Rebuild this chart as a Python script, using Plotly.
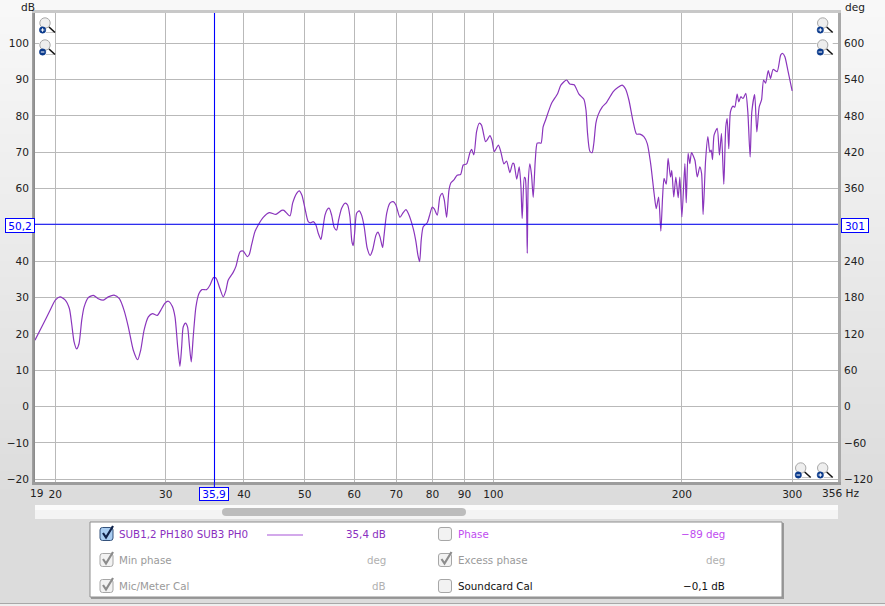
import plotly.graph_objects as go

freq_hz = [18.56,19.14,19.62,20.0,20.35,20.73,21.06,21.24,21.43,21.63,21.82,22.04,22.23,22.58,23.0,23.42,23.86,24.30,24.82,25.31,25.75,26.16,26.64,27.07,27.37,27.71,28.15,28.58,29.09,29.46,29.93,30.30,30.74,31.05,31.36,31.62,31.82,32.0,32.28,32.52,32.72,32.96,33.2,33.53,33.91,34.28,34.87,35.30,35.76,36.09,36.62,37.07,37.44,37.75,38.41,38.84,39.42,39.90,40.49,40.78,41.14,41.64,42.16,42.94,43.90,45.0,45.94,46.33,47.37,47.84,48.55,49.01,49.50,50.05,50.66,51.11,51.60,52.11,52.56,53.08,53.42,53.88,54.34,54.73,55.21,55.74,56.23,56.65,57.28,58.04,58.55,59.05,59.48,59.77,60.08,60.52,61.10,61.64,62.23,62.92,63.62,64.18,64.98,65.45,65.93,66.59,66.91,67.59,68.40,69.23,69.92,70.96,71.82,72.53,73.16,74.52,75.26,75.81,76.29,76.74,77.31,78.45,79.23,79.91,80.51,81.40,82.20,82.90,83.52,84.25,84.98,85.6,86.52,87.57,88.69,89.55,90.66,91.77,92.34,93.12,94.05,94.97,95.77,97.2,97.8,98.77,99.5,100.4,101.9,102.8,104.0,105.0,106.3,107.4,107.9,109.0,110.0,110.7,111.2,112.1,112.5,113.1,113.3,113.7,114.4,115.1,115.8,116.7,117.5,118.4,119.2,120.1,121.2,122.7,123.9,126.7,128.2,130.9,132.5,134.6,137.0,139.5,140.6,141.4,142.6,143.8,144.7,145.8,147.0,149.3,151.6,155.4,158.2,160.6,162.6,164.6,167.2,169.3,171.4,173.9,176.1,178.3,180.6,182.0,183.6,185.1,186.3,187.3,188.8,190.1,191.8,192.7,194.1,195.6,197.3,198.5,200.0,202.2,203.2,204.6,205.9,207.2,209.8,211.6,213.6,215.0,216.2,218.2,220.0,221.6,222.7,223.8,225.1,227.7,229.6,231.3,233.3,235.0,236.2,237.6,239.1,241.4,242.9,245.0,246.5,248.3,250.4,252.9,254.8,257.0,258.6,261.3,263.4,265.7,268.0,270.0,272.0,274.7,277.0,279.6,283.8,287.6,289.7,292.0,295.5,299.9]
spl_db = [18.3,22.8,26.5,29.3,30.2,29.4,27,22.8,17.8,15.9,17.3,23.8,27.4,30,30.6,29.7,29.3,30.2,30.7,29.7,26.5,21.9,15.5,12.9,15.5,21,24.7,25.6,25.1,26.5,28.5,29,27.6,24.7,16.4,11.1,16.4,21.9,23,21.9,17.3,12.3,19.2,27.4,31.1,32.2,32.2,33.4,35.5,35.4,32.5,30.2,32,34.8,36.8,38.6,42.6,42.8,41.3,41.8,44.5,48.1,50,52.1,53.4,52.9,54,54,52.5,56,58.7,59.4,58.2,54.6,50.9,50.6,50.9,50,47.7,46,48.6,52.7,54.3,54.6,52.7,49.3,48.6,51.4,54.6,56,55.5,52.3,45.4,44.3,47.7,53.2,53.9,52.7,49.5,43.6,41.6,43.1,47.2,48,46.8,43.8,46.8,53.2,56,56.4,55.5,52.1,53.4,54.2,53.2,49,45.4,41.7,39.9,45.9,49.5,50.6,53,54.9,54.4,52.7,57.8,58.7,56.9,52.1,59.6,61.6,62.4,63.7,63.9,66.5,66.8,69.9,70.8,69.3,75.7,78,77.5,72.9,73.4,74.6,73.4,70.2,72,70.2,66.8,67.6,64.4,67,66.8,62.6,66,60.5,51.8,63.1,62.8,51.4,42.2,61.5,66.8,63.7,57.6,67.9,72.5,72.6,72.5,77,78.9,81.6,83.5,86.2,88.5,89.9,88.8,88.6,86,84.6,81.6,75.2,70.3,69.9,72.5,78,80.3,82.5,83.7,86.7,87.9,88.5,87.4,84.4,78.4,75,75,74.3,72.4,66.9,58.6,54.5,57.7,48.3,57.7,62.8,61.2,68.3,63.2,65,57.7,63.2,57.5,63.2,52.2,66.9,56.1,69.7,66.9,69.9,67.8,63.2,66,64.2,52.9,67.8,74.3,70.1,70.6,68,74.7,76.6,69.2,75.2,61.2,77,79.3,71,81.2,82.7,82.4,86,83.9,85.3,84.8,86.2,81.2,68.7,81.2,85.9,75.6,82.5,84.4,89.9,89,92.5,90.3,92.8,92.2,96.8,97.2,96.3,92.2,86.9]

x_ticks = [20,30,40,50,60,70,80,90,100,200,300]
x_labels = ["20","30","40","50","60","70","80","90","100","200","300"]
db_ticks = [-20,-10,0,10,20,30,40,50,60,70,80,90,100]
db_labels = ["−20","−10","0","10","20","30","40","","60","70","80","90","100"]
deg_ticks = [-120,-60,0,60,120,180,240,300,360,420,480,540,600]
deg_labels = ["−120","−60","0","60","120","180","240","","360","420","480","540","600"]
cursor_hz = 35.9
cursor_db = 50.2

W, H = 885, 606
L, R, T, B = 35, 838, 13, 482
DB_RANGE = [-20.75, 108.34]
X_RANGE = [1.26863, 2.55015]
FONT = "DejaVu Sans"
INK = "#222222"
TICK_SIZE = 10.6

def xp(px):
    return (px - L) / (R - L)

def yp(py):
    return 1 - (py - T) / (B - T)

shapes = []
annotations = []

def rect(x0, y0, x1, y1, fill, line=None, lw=1, layer="above"):
    shapes.append(dict(type="rect", xref="paper", yref="paper", x0=xp(x0), x1=xp(x1),
                       y0=yp(y0), y1=yp(y1), fillcolor=fill, layer=layer,
                       line=dict(color=line or fill, width=lw if line else 0)))

def seg(x0, y0, x1, y1, color, lw=1):
    shapes.append(dict(type="line", xref="paper", yref="paper", x0=xp(x0), x1=xp(x1),
                       y0=yp(y0), y1=yp(y1), line=dict(color=color, width=lw)))

def circ(cx, cy, r, fill, line, lw=1):
    shapes.append(dict(type="circle", xref="paper", yref="paper", x0=xp(cx-r), x1=xp(cx+r),
                       y0=yp(cy-r), y1=yp(cy+r), fillcolor=fill, line=dict(color=line, width=lw)))

def poly(points, color, lw):
    d = "M " + " L ".join(f"{xp(a):.5f},{yp(b):.5f}" for a, b in points)
    shapes.append(dict(type="path", xref="paper", yref="paper", path=d, line=dict(color=color, width=lw)))

def rounded(x0, y0, x1, y1, r, fill, line=None, lw=1):
    X0, X1, Y0, Y1 = xp(x0), xp(x1), yp(y0), yp(y1)
    rx, ry = r / (R - L), r / (B - T)
    d = (f"M {X0+rx:.5f},{Y0:.5f} L {X1-rx:.5f},{Y0:.5f} Q {X1:.5f},{Y0:.5f} {X1:.5f},{Y0-ry:.5f} "
         f"L {X1:.5f},{Y1+ry:.5f} Q {X1:.5f},{Y1:.5f} {X1-rx:.5f},{Y1:.5f} "
         f"L {X0+rx:.5f},{Y1:.5f} Q {X0:.5f},{Y1:.5f} {X0:.5f},{Y1+ry:.5f} "
         f"L {X0:.5f},{Y0-ry:.5f} Q {X0:.5f},{Y0:.5f} {X0+rx:.5f},{Y0:.5f} Z")
    shapes.append(dict(type="path", xref="paper", yref="paper", path=d, fillcolor=fill,
                       line=dict(color=line or fill, width=lw if line else 0)))

def text(px, py, s, color=INK, size=10.3, anchor="left"):
    nudge = {"left": -2, "right": 2, "center": 0}[anchor]
    annotations.append(dict(xref="paper", yref="paper", x=xp(px + nudge), y=yp(py), text=s, showarrow=False,
                            xanchor=anchor, yanchor="middle", align=anchor,
                            font=dict(family=FONT, size=size, color=color)))

def boxed(cx, cy, w, h, s):
    annotations.append(dict(xref="paper", yref="paper", x=xp(cx), y=yp(cy), text=s, showarrow=False,
                            xanchor="center", yanchor="middle", width=w, height=h, bgcolor="white",
                            bordercolor="#0000ff", borderwidth=1, borderpad=0,
                            font=dict(family=FONT, size=TICK_SIZE, color="#0000ff")))

# window background: vertical gradient drawn as thin bands
bands = 60
for i in range(bands):
    shade = round(0xf8 + (0xdc - 0xf8) * i / (bands - 1))
    c = f"rgb({shade},{shade},{shade})"
    rect(0, 505 * i / bands, W, 505 * (i + 1) / bands + 1, c, layer="below")
rect(0, 505, W, 603, "#dcdcdc", layer="below")
rect(0, 604, W, 606, "#efefef", layer="below")
rect(L, T, R, B, "white", layer="below")
seg(0, 603.5, W, 603.5, "#a8a8a8", 1)

# plot frame shadow
rect(L - 3, T, L, B + 3, "#a0a0a0")
rect(L - 1.5, T, L, B + 1, "#8c8c8c")
rect(R, T - 1, R + 3, B + 3, "#a8a8a8")
rect(L - 3, T - 3, R + 3, T, "#c8c8c8")
rect(L - 3, B, R + 3, B + 3, "#9c9c9c")

# zoom icons
def lens(cx, cy, plus):
    rect(cx - 6, cy - 7, cx + 10, cy + 11, "white")
    seg(cx + 1, cy + 9.5, cx + 9, cy + 9.5, "#c8c8c8", 1)
    circ(cx, cy, 5.2, "#eeeeee", "#a8a8a8", 1)
    seg(cx + 4, cy + 4, cx + 10, cy + 9.5, "#111111", 1.6)
    circ(cx - 2.4, cy + 7, 3.2, "#0b3a8c", "#0b3a8c", 0.5)
    seg(cx - 4.2, cy + 7, cx - 0.6, cy + 7, "white", 1)
    if plus:
        seg(cx - 2.4, cy + 5.2, cx - 2.4, cy + 8.8, "white", 1)

lens(45, 23, True)
lens(45, 45, False)
lens(822.7, 23, True)
lens(822.7, 45, False)
lens(800.7, 468, False)
lens(822.7, 468, True)

# cursor tail and labels
seg(214.4, B, 214.4, 488, "#0000ff", 1)
boxed(213.5, 494, 28, 12, "35,9")
boxed(19.5, 225, 28, 13, "50,2")
boxed(855, 225, 26, 13, "301")

text(36, 493, "19", size=TICK_SIZE, anchor="center")
text(822, 493, "356 Hz", size=TICK_SIZE)
text(21, 7, "dB", size=TICK_SIZE)
text(845, 7, "deg", size=TICK_SIZE)

# scrollbar
rect(L, 505, R, 519, "#f4f4f4")
rect(L, 505, R, 510, "#fbfbfb")
rounded(222, 508, 466, 516, 4, "#bcbcbc")

# legend panel
rect(91, 523, 784, 599, "#9a9a9a")
rect(90, 522, 782, 597, "white", "#8e8e8e", 1)
PURPLE, PHASE, GREY = "#8a2fc0", "#c04cf0", "#9a9a9a"

def checkbox(x, y, checked=False, active=False):
    fill = "#a9cdf2" if active else "#f2f2f2"
    line = "#32507a" if active else "#a6a6a6"
    rounded(x, y - 6.5, x + 13, y + 6.5, 2.5, fill, line, 1)
    if checked:
        col = "#10224a" if active else "#8c8c8c"
        poly([(x + 3, y - 1), (x + 6, y + 3.5), (x + 13, y - 8)], col, 2.2)

rows = [534, 560, 586]
checkbox(100, rows[0], True, True)
checkbox(100, rows[1], True)
checkbox(100, rows[2], True)
checkbox(438.5, rows[0])
checkbox(438.5, rows[1], True)
checkbox(438.5, rows[2])
text(119, rows[0], "SUB1,2 PH180 SUB3 PH0", PURPLE)
text(119, rows[1], "Min phase", GREY)
text(119, rows[2], "Mic/Meter Cal", GREY)
seg(267, 535, 303, 535, "#c48de4", 1.5)
text(386, rows[0], "35,4 dB", PURPLE, anchor="right")
text(386, rows[1], "deg", "#b0b0b0", anchor="right")
text(386, rows[2], "dB", "#b0b0b0", anchor="right")
text(458, rows[0], "Phase", PHASE)
text(458, rows[1], "Excess phase", GREY)
text(458, rows[2], "Soundcard Cal", "#111111")
text(725, rows[0], "−89 deg", PHASE, anchor="right")
text(725, rows[1], "deg", "#b0b0b0", anchor="right")
text(725, rows[2], "−0,1 dB", "#111111", anchor="right")

fig = go.Figure()
fig.add_trace(go.Scatter(x=freq_hz, y=spl_db, mode="lines", hoverinfo="skip",
                         line=dict(color="#8a35bc", width=1.2, shape="spline", smoothing=0.65)))
fig.add_trace(go.Scatter(x=[cursor_hz, cursor_hz], y=DB_RANGE, mode="lines", hoverinfo="skip",
                         line=dict(color="#0000ff", width=1.1)))
fig.add_trace(go.Scatter(x=[10 ** X_RANGE[0], 10 ** X_RANGE[1]], y=[cursor_db, cursor_db], mode="lines",
                         hoverinfo="skip", line=dict(color="#0000ff", width=1.1)))
fig.add_trace(go.Scatter(x=[20], y=[0], yaxis="y2", mode="markers", opacity=0, hoverinfo="skip"))

fig.update_layout(
    width=W, height=H, showlegend=False, autosize=False,
    margin=dict(l=L, r=W - R, t=T, b=H - B, pad=0, autoexpand=False),
    paper_bgcolor="#e4e4e4", plot_bgcolor="white",
    font=dict(family=FONT, size=TICK_SIZE, color=INK),
    xaxis=dict(type="log", range=X_RANGE, tickmode="array", tickvals=x_ticks, ticktext=x_labels,
               showgrid=True, gridcolor="#b9b9b9", gridwidth=1, ticks="", zeroline=False,
               showline=False, ticklabelstandoff=4, tickangle=0),
    yaxis=dict(range=DB_RANGE, tickmode="array", tickvals=db_ticks, ticktext=db_labels,
               showgrid=True, gridcolor="#b9b9b9", gridwidth=1, ticks="", zeroline=False,
               showline=False, ticklabelstandoff=5),
    yaxis2=dict(overlaying="y", side="right", range=[v * 6 for v in DB_RANGE], tickmode="array",
                tickvals=deg_ticks, ticktext=deg_labels, showgrid=False, ticks="", zeroline=False,
                showline=False, ticklabelstandoff=5),
    shapes=shapes, annotations=annotations,
)
fig.write_html("out.html", config=dict(displayModeBar=False),
               post_script="document.body.style.margin='0';document.body.style.overflow='hidden';")
